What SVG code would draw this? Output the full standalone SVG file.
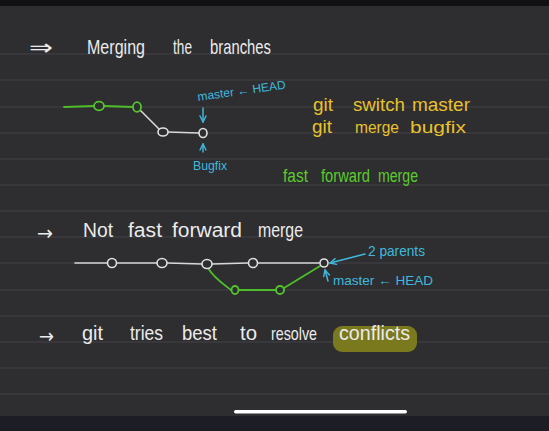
<svg xmlns="http://www.w3.org/2000/svg" width="549" height="431" viewBox="0 0 549 431">
<defs>
<style>
.rule{stroke:#434246;stroke-width:1}
.t{font-family:"Liberation Sans","DejaVu Sans",sans-serif}
.a{font-family:"DejaVu Sans",sans-serif}
.w{fill:#ebebeb}
.y{fill:#e8c12c}
.c{fill:#3fb9dd}
.g{fill:#5ccb2c}
.ew{stroke:#d8d8d8;stroke-width:1.6;fill:none;stroke-linecap:round}
.eg{stroke:#4dbd2a;stroke-width:1.8;fill:none;stroke-linecap:round}
.ec{stroke:#3fb9dd;stroke-width:1.5;fill:none;stroke-linecap:round}
.nw{stroke:#e0e0e0;stroke-width:1.6;fill:#2e2d30}
.ng{stroke:#55c52c;stroke-width:1.8;fill:#2e2d30}
</style>
<marker id="ah" viewBox="0 0 8 8" refX="7" refY="4" markerWidth="8" markerHeight="8" markerUnits="userSpaceOnUse" orient="auto">
<path d="M1,1 L7,4 L1,7" fill="none" stroke="#3fb9dd" stroke-width="1.4" stroke-linecap="round"/>
</marker>
</defs>
<rect width="549" height="431" fill="#2e2d30"/>
<rect width="549" height="6" fill="#111113"/>
<g id="rules">
<line class="rule" x1="0" y1="54" x2="549" y2="54"/>
<line class="rule" x1="0" y1="80" x2="549" y2="80"/>
<line class="rule" x1="0" y1="107" x2="549" y2="107"/>
<line class="rule" x1="0" y1="133" x2="549" y2="133"/>
<line class="rule" x1="0" y1="159" x2="549" y2="159"/>
<line class="rule" x1="0" y1="185" x2="549" y2="185"/>
<line class="rule" x1="0" y1="211" x2="549" y2="211"/>
<line class="rule" x1="0" y1="237" x2="549" y2="237"/>
<line class="rule" x1="0" y1="263" x2="549" y2="263"/>
<line class="rule" x1="0" y1="290" x2="549" y2="290"/>
<line class="rule" x1="0" y1="316" x2="549" y2="316"/>
<line class="rule" x1="0" y1="342" x2="549" y2="342"/>
<line class="rule" x1="0" y1="368" x2="549" y2="368"/>
<line class="rule" x1="0" y1="394" x2="549" y2="394"/>
</g>
<rect x="0" y="416" width="549" height="15" fill="#1d1d26"/>
<rect x="234" y="410" width="173" height="3.5" rx="1.7" fill="#ffffff"/>

<g id="title">
<text class="a w" x="29" y="55" font-size="22" textLength="24" lengthAdjust="spacingAndGlyphs">⇒</text>
<text class="t w" y="54" font-size="21"><tspan x="87" textLength="58" lengthAdjust="spacingAndGlyphs">Merging</tspan><tspan x="173" textLength="19" lengthAdjust="spacingAndGlyphs">the</tspan><tspan x="210" textLength="61" lengthAdjust="spacingAndGlyphs">branches</tspan></text>
</g>

<g id="connectors">
<line class="eg" x1="64" y1="107" x2="94" y2="106"/>
<line class="eg" x1="104" y1="106" x2="133" y2="107"/>
<line class="ew" x1="140" y1="110" x2="159" y2="129"/>
<line class="ew" x1="168" y1="132" x2="199" y2="133"/>
<line class="ew" x1="75" y1="263" x2="107" y2="263"/>
<line class="ew" x1="117" y1="263" x2="157" y2="263"/>
<line class="ew" x1="167" y1="263" x2="202" y2="264"/>
<line class="ew" x1="212" y1="264" x2="248" y2="263"/>
<line class="ew" x1="258" y1="263" x2="319" y2="263"/>
<path class="eg" d="M208,268 C214,278 222,283 231,290"/>
<line class="eg" x1="239" y1="290" x2="276" y2="290"/>
<path class="eg" d="M284,288 L320,266"/>
<line class="ec" x1="203" y1="108" x2="203" y2="122" marker-end="url(#ah)"/>
<line class="ec" x1="203" y1="152" x2="203" y2="144" marker-end="url(#ah)"/>
<line class="ec" x1="365" y1="254" x2="330" y2="263" marker-end="url(#ah)"/>
<line class="ec" x1="328" y1="281" x2="325" y2="270" marker-end="url(#ah)"/>
</g>

<g id="commit-a1"><ellipse class="ng" cx="99" cy="106" rx="5" ry="4.3"/></g>
<g id="commit-a2"><ellipse class="ng" cx="137" cy="107" rx="4" ry="4.8"/></g>
<g id="commit-a3"><ellipse class="nw" cx="163" cy="132" rx="5" ry="4"/></g>
<g id="commit-a4"><ellipse class="nw" cx="203" cy="133" rx="4" ry="4.5"/></g>

<g id="label-master-head-1">
<text class="t c" font-size="12" transform="translate(198,101) rotate(-8)" textLength="89" lengthAdjust="spacingAndGlyphs">master ← HEAD</text>
</g>
<g id="label-bugfix">
<text class="t c" x="193" y="170" font-size="13" textLength="34" lengthAdjust="spacingAndGlyphs">Bugfix</text>
</g>

<g id="commands">
<text class="t y" y="111" font-size="18"><tspan x="313" textLength="20" lengthAdjust="spacingAndGlyphs">git</tspan><tspan x="353" textLength="52" lengthAdjust="spacingAndGlyphs">switch</tspan><tspan x="412" textLength="58" lengthAdjust="spacingAndGlyphs">master</tspan></text>
<text class="t y" y="133" font-size="18"><tspan x="312" textLength="20" lengthAdjust="spacingAndGlyphs">git</tspan><tspan x="355" font-size="17" textLength="44" lengthAdjust="spacingAndGlyphs">merge</tspan><tspan x="410" font-size="17" textLength="56" lengthAdjust="spacingAndGlyphs">bugfix</tspan></text>
</g>
<g id="label-ff">
<text class="t g" y="182" font-size="18"><tspan x="283" textLength="25" lengthAdjust="spacingAndGlyphs">fast</tspan><tspan x="321" textLength="49" lengthAdjust="spacingAndGlyphs">forward</tspan><tspan x="378" textLength="40" lengthAdjust="spacingAndGlyphs">merge</tspan></text>
</g>

<g id="heading-2">
<text class="a w" x="37" y="240" font-size="20" textLength="16" lengthAdjust="spacingAndGlyphs">→</text>
<text class="t w" y="237" font-size="20"><tspan x="83" textLength="30" lengthAdjust="spacingAndGlyphs">Not</tspan><tspan x="128" textLength="34" lengthAdjust="spacingAndGlyphs">fast</tspan><tspan x="172" textLength="70" lengthAdjust="spacingAndGlyphs">forward</tspan><tspan x="258" font-size="21" textLength="45" lengthAdjust="spacingAndGlyphs">merge</tspan></text>
</g>

<g id="commit-b1"><ellipse class="nw" cx="112" cy="263" rx="4.5" ry="4.5"/></g>
<g id="commit-b2"><ellipse class="nw" cx="162" cy="263" rx="5" ry="4.5"/></g>
<g id="commit-b3"><ellipse class="nw" cx="207" cy="264" rx="5" ry="4.5"/></g>
<g id="commit-b4"><ellipse class="nw" cx="253" cy="263" rx="4.5" ry="4.5"/></g>
<g id="commit-b5"><ellipse class="nw" cx="324" cy="263" rx="4" ry="4"/></g>
<g id="commit-g1"><ellipse class="ng" cx="235" cy="290" rx="3.5" ry="4"/></g>
<g id="commit-g2"><ellipse class="ng" cx="280" cy="290" rx="4" ry="4"/></g>

<g id="label-2-parents">
<text class="t c" x="368" y="256" font-size="14" textLength="57" lengthAdjust="spacingAndGlyphs">2 parents</text>
</g>
<g id="label-master-head-2">
<text class="t c" x="333" y="285" font-size="13" textLength="100" lengthAdjust="spacingAndGlyphs">master ← HEAD</text>
</g>

<g id="conflicts-note">
<text class="a w" x="39" y="343" font-size="20" textLength="15" lengthAdjust="spacingAndGlyphs">→</text>
<rect x="333" y="326" width="84" height="26" rx="9" fill="#7b791e"/>
<text class="t w" y="340" font-size="20"><tspan x="82" textLength="21" lengthAdjust="spacingAndGlyphs">git</tspan><tspan x="130" textLength="33" lengthAdjust="spacingAndGlyphs">tries</tspan><tspan x="182" textLength="35" lengthAdjust="spacingAndGlyphs">best</tspan><tspan x="240" textLength="17" lengthAdjust="spacingAndGlyphs">to</tspan><tspan x="271" font-size="19" textLength="46" lengthAdjust="spacingAndGlyphs">resolve</tspan><tspan x="339" textLength="71" lengthAdjust="spacingAndGlyphs">conflicts</tspan></text>
</g>
</svg>
